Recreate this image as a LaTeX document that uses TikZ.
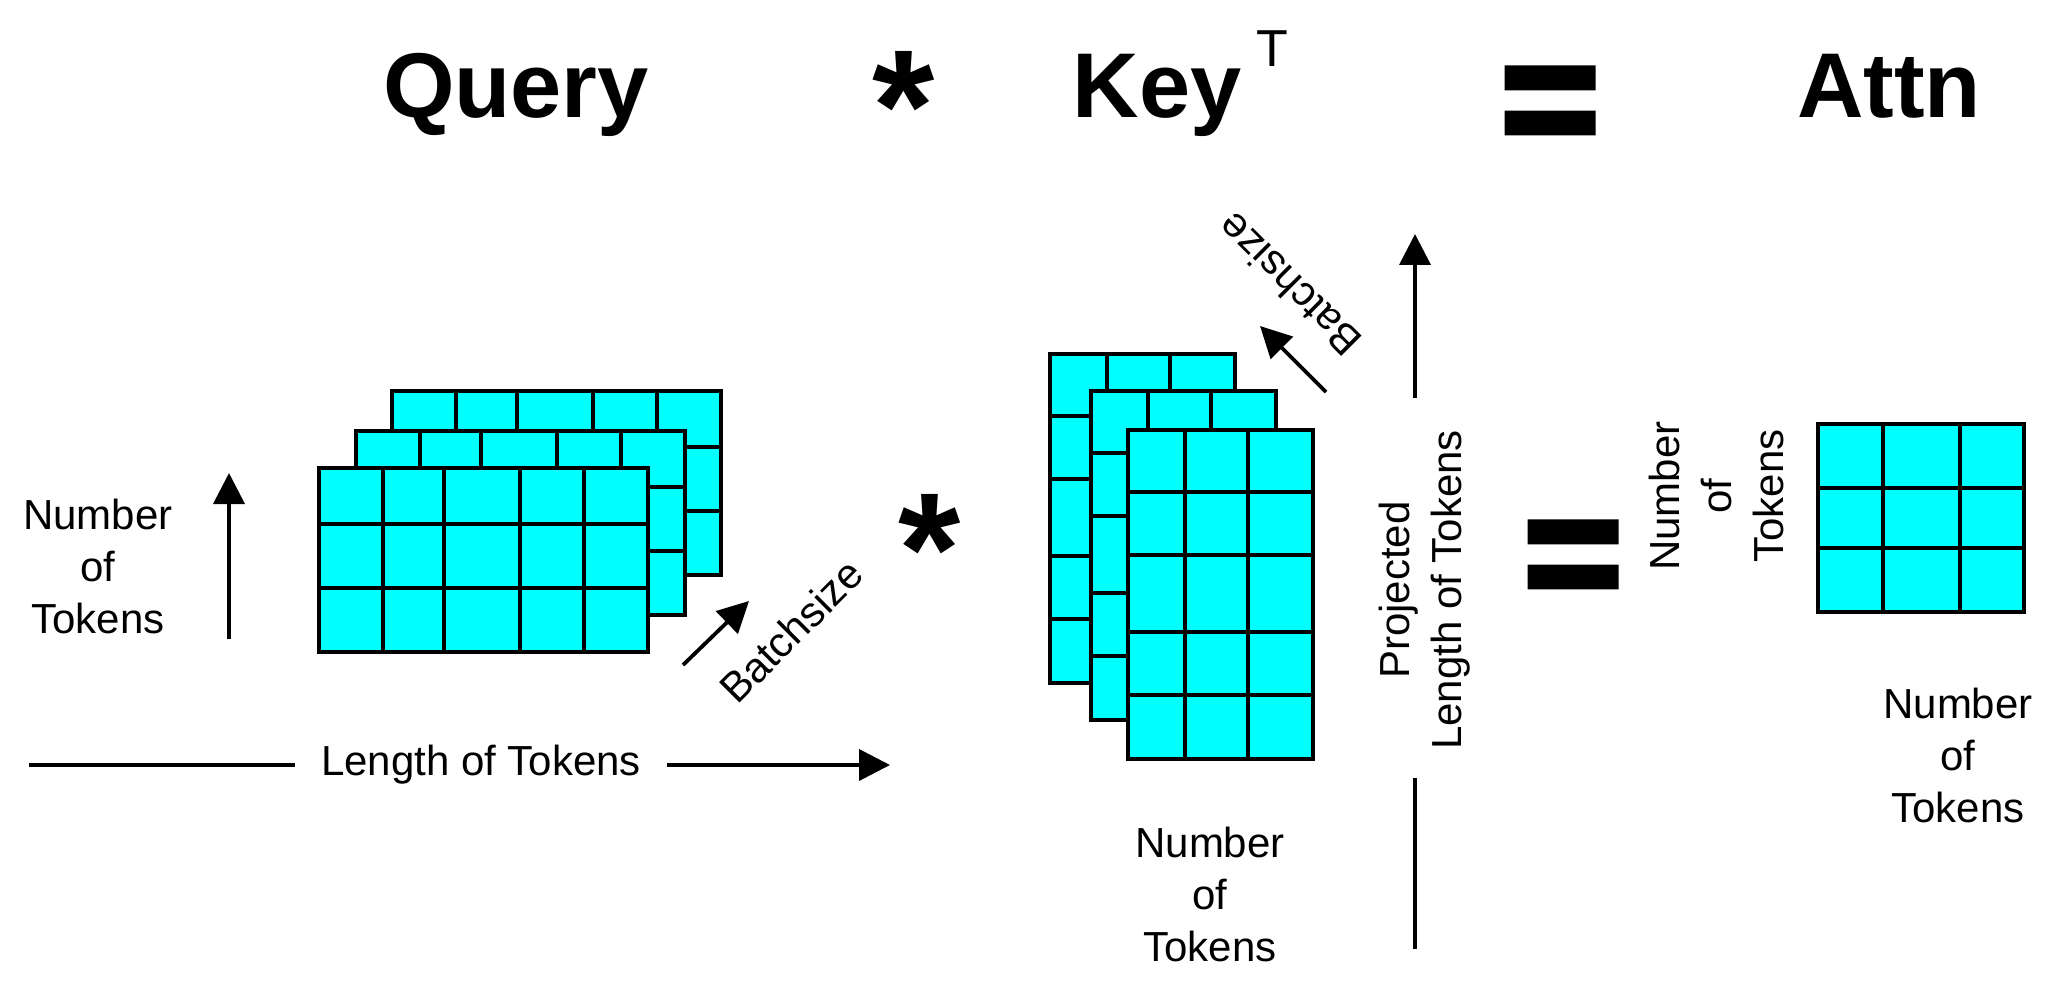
\documentclass[tikz,border=0pt]{standalone}
\usepackage{fontspec}
\setmainfont{Liberation Sans}
\newfontfamily\eqfont[FakeBold=4]{Liberation Sans Bold}
\usetikzlibrary{arrows.meta}
\definecolor{cyanfill}{HTML}{00FFFF}
\begin{document}
\begin{tikzpicture}[x=0.5pt,y=-0.5pt,
  lbl/.style={font=\fontsize{21}{26}\selectfont, inner sep=0pt, align=center},
  ttl/.style={font=\bfseries\fontsize{46}{50}\selectfont, inner sep=0pt, anchor=base},
  opsym/.style={font=\bfseries\fontsize{80}{82}\selectfont, inner sep=0pt, anchor=base},
  eqsym/.style={font=\eqfont\fontsize{84}{86}\selectfont, inner sep=0pt, anchor=base},
  arr/.style={line width=1.9pt, -{Triangle[length=15.5pt,width=15.5pt]}},
  seg/.style={line width=1.9pt},
  cell/.style={line width=1.7pt},
  frame/.style={line width=1.9pt},
  qlayer/.pic={
    \fill[cyanfill] (0,0) rectangle (329,184);
    \draw[cell] (64,0)--(64,184) (125,0)--(125,184) (201,0)--(201,184) (265,0)--(265,184)
                (0,56)--(329,56) (0,120)--(329,120);
    \draw[frame] (0,0) rectangle (329,184);
  },
  klayer/.pic={
    \fill[cyanfill] (0,0) rectangle (185,329);
    \draw[cell] (57,0)--(57,329) (120,0)--(120,329)
                (0,62)--(185,62) (0,125)--(185,125) (0,202)--(185,202) (0,265)--(185,265);
    \draw[frame] (0,0) rectangle (185,329);
  }
]
\useasboundingbox (0,0) rectangle (2060,989);
\fill[white] (0,0) rectangle (2060,989);

% titles
\node[ttl] (tq) at (516,118) {Query};
\node[opsym] (tm) at (904,162) {*};
\node[ttl] (tk) at (1157,118) {Key};
\node[ttl, font=\fontsize{26}{28}\selectfont] (tt) at (1272,67) {T};
\node[eqsym] (te) at (1550,156) {=};
\node[ttl] (ta) at (1889,118) {Attn};

% Query
\pic at (392,391) {qlayer};
\pic at (356,431) {qlayer};
\pic at (319,468) {qlayer};
\node[lbl] (qn) at (98,566) {Number\\of\\Tokens};
\coordinate (qa0) at (229,639);
\coordinate (qa1) at (229,473);
\draw[arr] (qa0) -- (qa1);
\coordinate (qb0) at (683,665);
\coordinate (qb1) at (749,601);
\draw[arr] (qb0) -- (qb1);
\node[lbl, rotate=45] (qbt) at (791,631) {Batchsize};
\node[lbl, inner xsep=13pt] (ql) at (481,765) {Length of Tokens};
\coordinate (ql0) at (29,765);
\coordinate (ql1) at (890,765);
\draw[seg] (ql0) -- (ql.west);
\draw[arr] (ql.east) -- (ql1);

% multiply
\node[opsym] (bm) at (930,604) {*};

% Key
\pic at (1050,354) {klayer};
\pic at (1091,391) {klayer};
\pic at (1128,430) {klayer};
\coordinate (kb0) at (1326,392);
\coordinate (kb1) at (1260,326);
\draw[arr] (kb0) -- (kb1);
\node[lbl, rotate=135] (kbt) at (1289,285) {Batchsize};
\node[lbl] (kn) at (1210,894) {Number\\of\\Tokens};
\node[lbl, rotate=90] (kp) at (1425,590) {Projected\\Length of Tokens};
\coordinate (pb0) at (1415,949);
\coordinate (pb1) at (1415,778);
\coordinate (pt0) at (1415,398);
\coordinate (pt1) at (1415,234);
\draw[seg] (pb0) -- (pb1);
\draw[arr] (pt0) -- (pt1);

% equals
\node[eqsym] (be) at (1573,610) {=};

% Attn
\node[lbl, rotate=90] (an) at (1716,496) {Number\\of\\Tokens};
\fill[cyanfill] (1818,424) rectangle (2024,612);
\draw[cell] (1883,424)--(1883,612) (1960,424)--(1960,612)
            (1818,488)--(2024,488) (1818,548)--(2024,548);
\draw[frame] (1818,424) rectangle (2024,612);
\node[lbl] (an2) at (1958,755) {Number\\of\\Tokens};
\end{tikzpicture}
\end{document}
